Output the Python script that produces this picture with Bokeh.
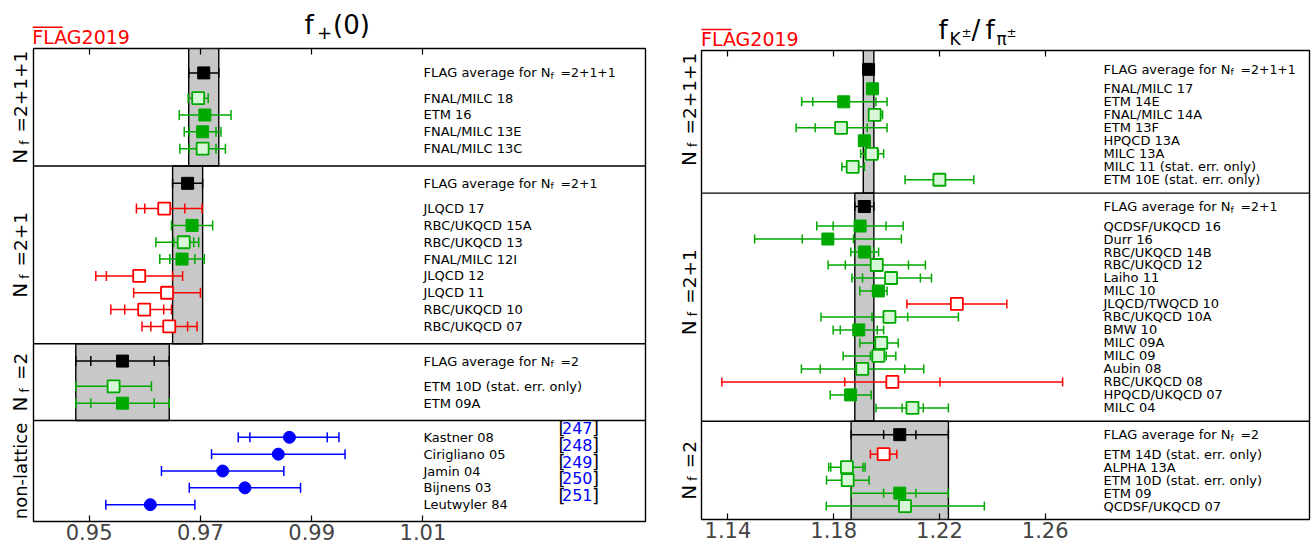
import math
from bokeh.plotting import figure
from bokeh.models import Range1d, FixedTicker, LinearAxis, Span
from bokeh.layouts import row, column
from bokeh.embed import file_html
from bokeh.resources import INLINE
from bokeh.core.properties import value

FONT = "DejaVu Sans"
GREEN = "#00a900"
LIGHT = "#d8f6d8"
RED = "#ff0000"
BLUE = "#0000ff"
BAND = "#c8c8c8"

# ======================= f+(0) =======================
fp_xrange = (0.94, 1.05)
fp_ticks = [0.95, 0.97, 0.99, 1.01]
fp_tick_labels = ["0.95", "0.97", "0.99", "1.01"]

fp_avg_tags = ["2+1+1", "2+1", "2"]
fp_avg_val = [0.9706, 0.9677, 0.9560]
fp_avg_stat = [0.0027, 0.0027, 0.0057]
fp_avg_tot = [0.0027, 0.0027, 0.0084]

fp1_names = ["FNAL/MILC 18", "ETM 16", "FNAL/MILC 13E", "FNAL/MILC 13C"]
fp1_vals = [0.9696, 0.9708, 0.9704, 0.9704]
fp1_slo = [0.0015, 0.0045, 0.0024, 0.0024]
fp1_shi = [0.0015, 0.0045, 0.0024, 0.0024]
fp1_tlo = [0.0018, 0.0046, 0.0033, 0.0041]
fp1_thi = [0.0018, 0.0047, 0.0033, 0.0041]
fp1_sty = ["light", "fill", "fill", "light"]

fp2_names = ["JLQCD 17", "RBC/UKQCD 15A", "RBC/UKQCD 13", "FNAL/MILC 12I",
             "JLQCD 12", "JLQCD 11", "RBC/UKQCD 10", "RBC/UKQCD 07"]
fp2_vals = [0.9635, 0.9685, 0.9670, 0.9667, 0.9590, 0.9640, 0.9599, 0.9644]
fp2_slo = [0.0035, 0.0034, 0.0018, 0.0022, 0.0059, 0.0060, 0.0035, 0.0033]
fp2_shi = [0.0037, 0.0034, 0.0018, 0.0023, 0.0060, 0.0060, 0.0035, 0.0033]
fp2_tlo = [0.0050, 0.0037, 0.0050, 0.0040, 0.0078, 0.0060, 0.0060, 0.0049]
fp2_thi = [0.0068, 0.0037, 0.0027, 0.0040, 0.0078, 0.0060, 0.0049, 0.0050]
fp2_sty = ["open", "fill", "light", "fill", "open", "open", "open", "open"]

fp3_names = ["ETM 10D (stat. err. only)", "ETM 09A"]
fp3_vals = [0.9544, 0.9560]
fp3_slo = [0.0068, 0.0057]
fp3_shi = [0.0068, 0.0057]
fp3_tlo = [0.0068, 0.0084]
fp3_thi = [0.0068, 0.0084]
fp3_sty = ["light", "fill"]

fp4_names = ["Kastner 08", "Cirigliano 05", "Jamin 04", "Bijnens 03", "Leutwyler 84"]
fp4_vals = [0.986, 0.984, 0.974, 0.978, 0.961]
fp4_slo = [0.0071, 0.012, 0.011, 0.010, 0.008]
fp4_shi = [0.0068, 0.012, 0.011, 0.010, 0.008]
fp4_tlo = [0.0092, 0.012, 0.011, 0.010, 0.008]
fp4_thi = [0.0089, 0.012, 0.011, 0.010, 0.008]
fp4_sty = ["circle"] * 5
fp4_refs = ["247", "248", "249", "250", "251"]

# ======================= fK/fpi =======================
fk_xrange = (1.13, 1.36)
fk_ticks = [1.14, 1.18, 1.22, 1.26]
fk_tick_labels = ["1.14", "1.18", "1.22", "1.26"]

fk_avg_tags = ["2+1+1", "2+1", "2"]
fk_avg_val = [1.1932, 1.1916, 1.2050]
fk_avg_stat = [0.0020, 0.0036, 0.0061]
fk_avg_tot = [0.0020, 0.0036, 0.0184]

fk1_names = ["FNAL/MILC 17", "ETM 14E", "FNAL/MILC 14A", "ETM 13F", "HPQCD 13A",
             "MILC 13A", "MILC 11 (stat. err. only)", "ETM 10E (stat. err. only)"]
fk1_vals = [1.1947, 1.1838, 1.1955, 1.1828, 1.1916, 1.1944, 1.1872, 1.2200]
fk1_slo = [0.0015, 0.0117, 0.0010, 0.0098, 0.0021, 0.0025, 0.0041, 0.0130]
fk1_shi = [0.0015, 0.0122, 0.0010, 0.0099, 0.0021, 0.0025, 0.0044, 0.0130]
fk1_tlo = [0.0022, 0.0159, 0.0020, 0.0170, 0.0021, 0.0042, 0.0041, 0.0130]
fk1_thi = [0.0015, 0.0164, 0.0030, 0.0174, 0.0021, 0.0045, 0.0044, 0.0130]
fk1_sty = ["fill", "fill", "light", "light", "fill", "light", "light", "light"]

fk2_names = ["QCDSF/UKQCD 16", "Durr 16", "RBC/UKQCD 14B", "RBC/UKQCD 12", "Laiho 11",
             "MILC 10", "JLQCD/TWQCD 10", "RBC/UKQCD 10A", "BMW 10", "MILC 09A",
             "MILC 09", "Aubin 08", "RBC/UKQCD 08", "HPQCD/UKQCD 07", "MILC 04"]
fk2_vals = [1.1900, 1.1778, 1.1917, 1.1963, 1.2017, 1.1969, 1.2266, 1.2011, 1.1895,
            1.1980, 1.1969, 1.1908, 1.2022, 1.1864, 1.2098]
fk2_slo = [0.0102, 0.0097, 0.0035, 0.0119, 0.0108, 0.0020, 0.0189, 0.0066, 0.0070,
           0.0020, 0.0030, 0.0159, 0.0180, 0.0020, 0.0039]
fk2_shi = [0.0098, 0.0097, 0.0035, 0.0120, 0.0111, 0.0020, 0.0189, 0.0069, 0.0070,
           0.0020, 0.0030, 0.0161, 0.0180, 0.0020, 0.0041]
fk2_tlo = [0.0164, 0.0277, 0.0052, 0.0184, 0.0148, 0.0070, 0.0189, 0.0259, 0.0097,
           0.0081, 0.0133, 0.0230, 0.0645, 0.0077, 0.0138]
fk2_thi = [0.0163, 0.0278, 0.0053, 0.0184, 0.0153, 0.0033, 0.0189, 0.0261, 0.0094,
           0.0064, 0.0066, 0.0233, 0.0644, 0.0078, 0.0136]
fk2_sty = ["fill", "fill", "fill", "light", "light", "fill", "open", "light", "fill",
           "light", "light", "light", "open", "fill", "light"]

fk3_names = ["ETM 14D (stat. err. only)", "ALPHA 13A", "ETM 10D (stat. err. only)",
             "ETM 09", "QCDSF/UKQCD 07"]
fk3_vals = [1.1989, 1.1850, 1.1853, 1.2050, 1.2070]
fk3_slo = [0.0050, 0.0061, 0.0080, 0.0061, 0.0298]
fk3_shi = [0.0050, 0.0061, 0.0081, 0.0061, 0.0300]
fk3_tlo = [0.0050, 0.0069, 0.0080, 0.0184, 0.0298]
fk3_thi = [0.0050, 0.0069, 0.0081, 0.0184, 0.0300]
fk3_sty = ["open", "light", "light", "fill", "light"]

STYLE = {
    "avg": ("black", "black", 1.0),
    "fill": (GREEN, GREEN, 1.0),
    "light": (GREEN, LIGHT, 1.8),
    "open": (RED, "white", 1.8),
    "circle": (BLUE, BLUE, 1.0),
}
ADV = {"=": 0.838, "+": 0.838, "1": 0.636, "2": 0.636}
PI = math.pi
MID = 0.346   # distance (in em) from alphabetic baseline to the middle of the em box


def layout_rows(secs, top_pad=1.45, avg_gap=1.5, end_gap=1.03, nl_gap=1.0):
    cur = 0.0
    out = []
    for i, s in enumerate(secs):
        top = cur
        if s["avg"] is not None:
            ya = cur + (top_pad if i == 0 else end_gap)
            first = ya + avg_gap
        else:
            ya = None
            first = cur + nl_gap
        ys = [first + k for k in range(len(s["names"]))]
        bot = ys[-1] + (end_gap if s["avg"] is not None else nl_gap)
        out.append((top, bot, ya, ys))
        cur = bot
    return out, cur


def txt(f, x, y, s, size, color="black", angle=0.0, align="left"):
    f.text(x=[x], y=[y], text=[s], text_font=value(FONT), text_font_size=f"{size}px",
           text_color=color, angle=angle, text_align=align, text_baseline="middle")


def blank(w, h, xr, yr):
    f = figure(width=w, height=h, x_range=xr, y_range=yr, output_backend="svg",
               toolbar_location=None, tools="", min_border=0,
               x_axis_location=None, y_axis_location=None)
    f.grid.visible = False
    f.outline_line_color = None
    f.background_fill_color = "white"
    f.border_fill_color = "white"
    return f


def make_panel(secs, xr, ticks, tick_labels, fig_w, fig_h, mbl, mbr, mbt, mbb,
               label_px, side_w, nf_base, sub_shift, nf_shift_px, cap_sz):
    lay, total = layout_rows(secs)
    fw = fig_w - mbl - mbr
    fh = fig_h - mbt - mbb
    ppx = fw / (xr[1] - xr[0])
    ppy = fh / total
    X = lambda px: xr[0] + px / ppx
    yr = Range1d(total, 0)

    p = figure(width=fig_w, height=fig_h, x_range=Range1d(*xr), y_range=yr,
               output_backend="svg", toolbar_location=None, tools="",
               min_border_left=mbl, min_border_right=mbr, min_border_top=mbt,
               min_border_bottom=mbb, y_axis_location=None)
    p.grid.visible = False
    p.outline_line_color = "black"
    p.outline_line_width = 1.4
    p.background_fill_color = "white"
    p.border_fill_color = "white"

    ax = p.xaxis[0]
    ax.ticker = FixedTicker(ticks=ticks)
    ax.major_label_overrides = {t: l for t, l in zip(ticks, tick_labels)}
    ax.major_label_text_font = FONT
    ax.major_label_text_font_size = "21px"
    ax.major_label_standoff = 2
    ax.major_tick_in = 6
    ax.major_tick_out = 0
    ax.minor_tick_in = 0
    ax.minor_tick_out = 0
    ax.axis_line_color = None
    ax.major_tick_line_width = 1.2
    top_ax = LinearAxis(ticker=FixedTicker(ticks=ticks), fixed_location=0,
                        major_label_overrides={t: "" for t in ticks},
                        major_tick_in=6, major_tick_out=0, minor_tick_in=0, minor_tick_out=0,
                        axis_line_color=None, major_label_standoff=0, major_tick_line_width=1.2)
    p.add_layout(top_ax, "above")

    side = blank(side_w, fig_h, Range1d(0, side_w), yr)
    side.min_border_top = mbt
    side.min_border_bottom = mbb

    seg_x0, seg_x1, seg_y, seg_c = [], [], [], []
    cap_x, cap_y, cap_c = [], [], []
    mk = {k: ([], []) for k in STYLE}
    lx = X(label_px)

    for i, (s, (top, bot, ya, ys)) in enumerate(zip(secs, lay)):
        pts = []
        if s["avg"] is not None:
            a, ast, atot = s["avg"]
            p.quad(left=[a - atot], right=[a + atot], top=[top], bottom=[bot],
                   fill_color=BAND, line_color="black", line_width=1.4)
            pts.append((a, ast, ast, atot, atot, "avg", ya))
        for k, y in enumerate(ys):
            pts.append((s["vals"][k], s["slo"][k], s["shi"][k], s["tlo"][k], s["thi"][k],
                        s["sty"][k], y))
        for v, slo, shi, tlo, thi, st, y in pts:
            c = STYLE[st][0]
            seg_x0.append(v - tlo); seg_x1.append(v + thi); seg_y.append(y); seg_c.append(c)
            cap_x += [v - tlo, v + thi]; cap_y += [y, y]; cap_c += [c, c]
            if (tlo - slo) * ppx > 2.0:
                cap_x.append(v - slo); cap_y.append(y); cap_c.append(c)
            if (thi - shi) * ppx > 2.0:
                cap_x.append(v + shi); cap_y.append(y); cap_c.append(c)
            mk[st][0].append(v); mk[st][1].append(y)
        if i < len(secs) - 1:
            p.add_layout(Span(location=bot, dimension="width", line_color="black",
                              line_width=1.4))
        p.text(x=[lx] * len(ys), y=ys, text=s["names"], text_font=value(FONT),
               text_font_size="13px", text_baseline="middle", text_align="left",
               text_color="black")
        if s["avg"] is not None:
            p.text(x=[lx], y=[ya], text=["FLAG average for N"], text_font=value(FONT),
                   text_font_size="13px", text_baseline="middle", text_color="black")
            p.text(x=[X(label_px + 127.0)], y=[ya + 3.0 / ppy], text=["f"],
                   text_font=value(FONT), text_font_size="9px", text_baseline="middle",
                   text_color="black")
            p.text(x=[X(label_px + 137.0)], y=[ya], text=["=" + s["tag"]],
                   text_font=value(FONT), text_font_size="12.5px", text_baseline="middle",
                   text_color="black")
        if s.get("refs"):
            ry = [y - 9.4 / ppy for y in ys]
            p.text(x=[X(525.0)] * len(ys), y=ry, text=["["] * len(ys), text_font=value(FONT),
                   text_font_size="18px", text_baseline="middle", text_color="black")
            p.text(x=[X(528.5)] * len(ys), y=ry, text=s["refs"], text_font=value(FONT),
                   text_font_size="16px", text_baseline="middle", text_color=BLUE)
            p.text(x=[X(558.5)] * len(ys), y=ry, text=["]"] * len(ys), text_font=value(FONT),
                   text_font_size="18px", text_baseline="middle", text_color="black")
        # rotated section label in the side strip (shares the y range);
        # x of each piece = baseline minus half the em box, since text is middle-anchored
        yc = (top + bot) / 2 + nf_shift_px[i] / ppy
        if s["avg"] is not None:
            tail = "=" + s["tag"]
            T = sum(ADV[ch] for ch in tail) * 18.5
            a0 = yc + (31.4 + T) / 2 / ppy
            txt(side, nf_base - MID * 20, a0, "N", 20, angle=PI / 2)
            txt(side, nf_base + sub_shift - MID * 12, a0 - 19.0 / ppy, "f", 12, angle=PI / 2)
            txt(side, nf_base - MID * 18.5, a0 - 31.4 / ppy, tail, 18.5, angle=PI / 2)
        else:
            txt(side, nf_base - MID * 18, yc, "non-lattice", 18, angle=PI / 2, align="center")

    p.segment(x0=seg_x0, x1=seg_x1, y0=seg_y, y1=seg_y, line_color=seg_c, line_width=1.5)
    p.scatter(x=cap_x, y=cap_y, marker="dash", angle=PI / 2, size=cap_sz,
              line_color=cap_c, line_width=1.5)
    for st, (xs, ys_) in mk.items():
        if not xs:
            continue
        lc, fc, lw = STYLE[st]
        marker = "circle" if st == "circle" else "square"
        p.scatter(x=xs, y=ys_, marker=marker, size=12, fill_color=fc, line_color=lc,
                  line_width=lw)
    return p, side


def make_head(w, h, title_parts, logo_x, logo_base):
    f = blank(w, h, Range1d(0, w), Range1d(h, 0))
    for t, x, base, sz in title_parts:
        txt(f, x, base - MID * sz, t, sz)
    txt(f, logo_x, logo_base - MID * 19, "FLAG2019", 19, color=RED)
    f.segment(x0=[logo_x + 0.5], x1=[logo_x + 30.5], y0=[logo_base - 16.0],
              y1=[logo_base - 16.0], line_color=RED, line_width=1.4)
    return f


fp_secs = [
    dict(tag=fp_avg_tags[0], avg=(fp_avg_val[0], fp_avg_stat[0], fp_avg_tot[0]),
         names=fp1_names, vals=fp1_vals, slo=fp1_slo, shi=fp1_shi, tlo=fp1_tlo, thi=fp1_thi, sty=fp1_sty),
    dict(tag=fp_avg_tags[1], avg=(fp_avg_val[1], fp_avg_stat[1], fp_avg_tot[1]),
         names=fp2_names, vals=fp2_vals, slo=fp2_slo, shi=fp2_shi, tlo=fp2_tlo, thi=fp2_thi, sty=fp2_sty),
    dict(tag=fp_avg_tags[2], avg=(fp_avg_val[2], fp_avg_stat[2], fp_avg_tot[2]),
         names=fp3_names, vals=fp3_vals, slo=fp3_slo, shi=fp3_shi, tlo=fp3_tlo, thi=fp3_thi, sty=fp3_sty),
    dict(tag=None, avg=None, names=fp4_names, vals=fp4_vals, slo=fp4_slo, shi=fp4_shi,
         tlo=fp4_tlo, thi=fp4_thi, sty=fp4_sty, refs=fp4_refs),
]
fk_secs = [
    dict(tag=fk_avg_tags[0], avg=(fk_avg_val[0], fk_avg_stat[0], fk_avg_tot[0]),
         names=fk1_names, vals=fk1_vals, slo=fk1_slo, shi=fk1_shi, tlo=fk1_tlo, thi=fk1_thi, sty=fk1_sty),
    dict(tag=fk_avg_tags[1], avg=(fk_avg_val[1], fk_avg_stat[1], fk_avg_tot[1]),
         names=fk2_names, vals=fk2_vals, slo=fk2_slo, shi=fk2_shi, tlo=fk2_tlo, thi=fk2_thi, sty=fk2_sty),
    dict(tag=fk_avg_tags[2], avg=(fk_avg_val[2], fk_avg_stat[2], fk_avg_tot[2]),
         names=fk3_names, vals=fk3_vals, slo=fk3_slo, shi=fk3_shi, tlo=fk3_tlo, thi=fk3_thi, sty=fk3_sty),
]

# title pieces: (text, x, alphabetic baseline y, font px) in header pixel coordinates
fp_title = [("f", 304.0, 33.3, 26), ("+", 316.5, 38.3, 18), ("(0)", 332.5, 33.3, 26)]
fk_title = [("f", 266.0, 38.0, 26), ("K", 277.0, 44.0, 17), ("±", 289.0, 37.0, 12),
            ("/", 299.0, 38.0, 26), ("f", 313.0, 38.0, 26), ("π", 324.0, 44.0, 17),
            ("±", 334.0, 37.0, 12)]

# left block: header 672x47, side 32 + panel 640 (height 502)
p1, s1 = make_panel(fp_secs, fp_xrange, fp_ticks, fp_tick_labels, 640, 502, 1, 27, 1, 28,
                    label_px=390.0, side_w=32, nf_base=26.5, sub_shift=2.5,
                    nf_shift_px=[0, 0, 0, 0], cap_sz=10)
h1 = make_head(672, 47, fp_title, 31.7, 42.7)
# right block: header 639x49, side 28 + panel 611 (height 500)
p2, s2 = make_panel(fk_secs, fk_xrange, fk_ticks, fk_tick_labels, 611, 500, 1, 2, 1, 30,
                    label_px=402.0, side_w=28, nf_base=23.3, sub_shift=1.5,
                    nf_shift_px=[-12.5, -15.0, 0], cap_sz=9)
h2 = make_head(639, 49, fk_title, 28.5, 45.0)

layout = row(column(h1, row(s1, p1, spacing=0), spacing=0),
             column(h2, row(s2, p2, spacing=0), spacing=0), spacing=0)
open("out.html", "w").write(file_html(layout, INLINE))
